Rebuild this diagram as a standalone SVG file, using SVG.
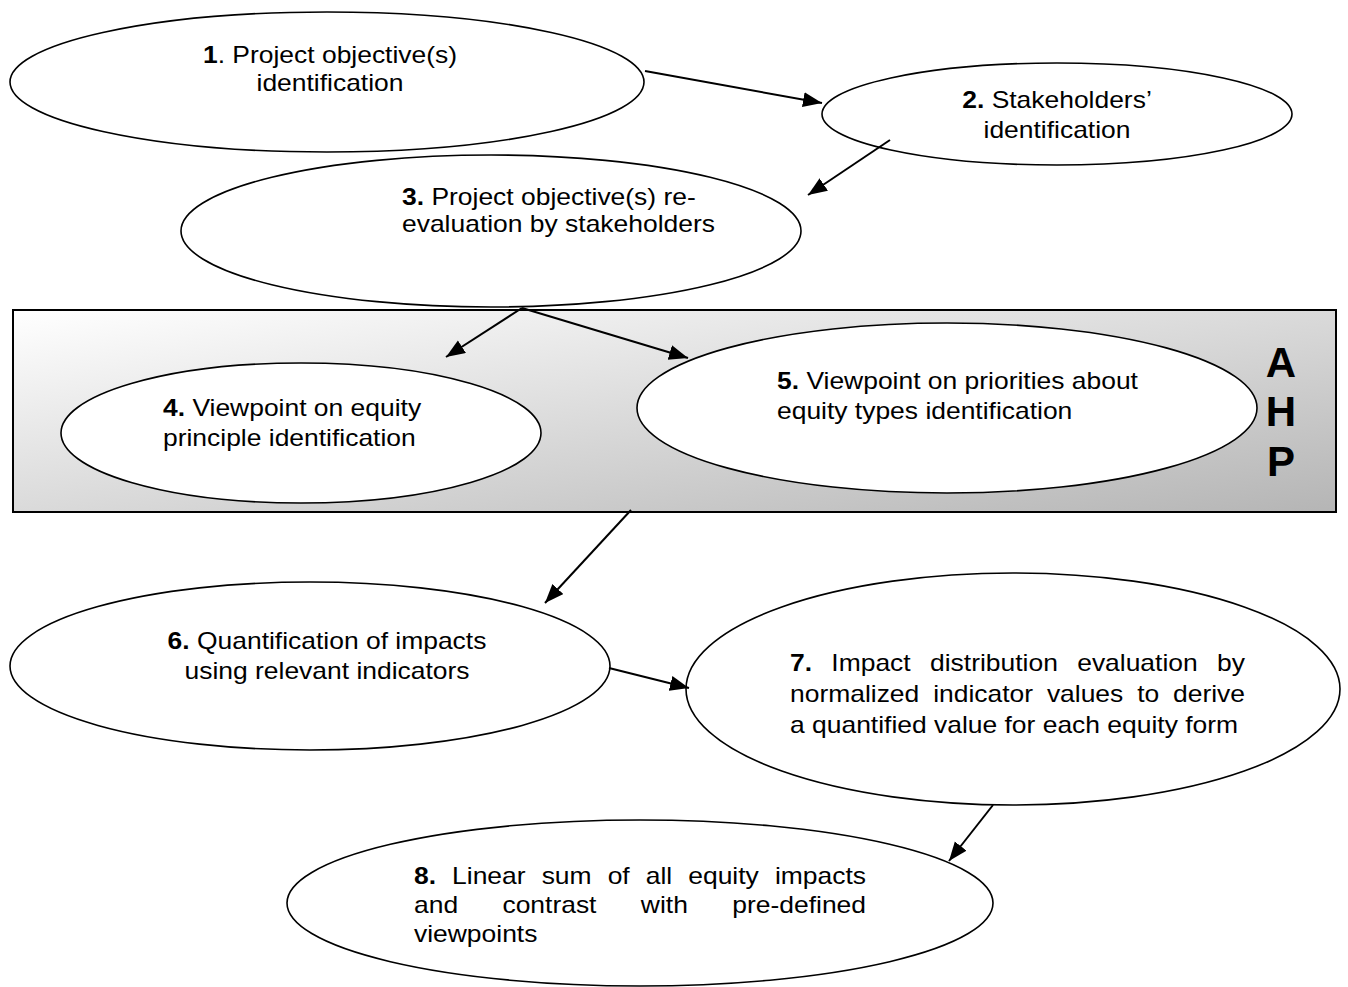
<svg xmlns="http://www.w3.org/2000/svg" width="1348" height="987" viewBox="0 0 1348 987">
<style>
.n{fill:#fff;stroke:#000;stroke-width:1.6}
.t{font-family:"Liberation Sans",Arial,sans-serif;font-size:23px;fill:#000}
.b{font-weight:bold}
.c{text-anchor:middle}
.e{text-anchor:end}
.ahp{font-family:"Liberation Sans",Arial,sans-serif;font-size:42px;font-weight:bold;text-anchor:middle;fill:#000}
.a{stroke:#000;stroke-width:2;fill:none;marker-end:url(#arr)}
</style>
<defs>
<linearGradient id="g" x1="0" y1="0" x2="1" y2="1">
<stop offset="0" stop-color="#ffffff"/>
<stop offset="1" stop-color="#b5b5b5"/>
</linearGradient>
<marker id="arr" markerUnits="userSpaceOnUse" markerWidth="20" markerHeight="16" refX="19" refY="7.5" orient="auto">
<path d="M0,0 L19,7.5 L0,15 z" fill="#000"/>
</marker>
</defs>

<g id="ahp-box">
<rect x="13" y="310" width="1323" height="202" fill="url(#g)" stroke="#000" stroke-width="2"/>
<text class="ahp" x="1281" y="377">A</text>
<text class="ahp" x="1281" y="426">H</text>
<text class="ahp" x="1281" y="476">P</text>
</g>

<g id="node1">
<ellipse class="n" cx="327" cy="82" rx="317" ry="70"/>
<g transform="matrix(1.15 0 0 1 330 0)">
<text class="t c" x="0" y="63"><tspan class="b">1</tspan>. Project objective(s)</text>
<text class="t c" x="0" y="91">identification</text>
</g>
</g>

<g id="node2">
<ellipse class="n" cx="1057" cy="114" rx="235" ry="51"/>
<g transform="matrix(1.15 0 0 1 1057 0)">
<text class="t c" x="0" y="108"><tspan class="b">2.</tspan> Stakeholders’</text>
<text class="t c" x="0" y="138">identification</text>
</g>
</g>

<g id="node3">
<ellipse class="n" cx="491" cy="231" rx="310" ry="76"/>
<g transform="matrix(1.15 0 0 1 402 0)">
<text class="t" x="0" y="205"><tspan class="b">3.</tspan> Project objective(s) re-</text>
<text class="t" x="0" y="232">evaluation by stakeholders</text>
</g>
</g>

<g id="node4">
<ellipse class="n" cx="301" cy="433" rx="240" ry="70"/>
<g transform="matrix(1.15 0 0 1 163 0)">
<text class="t" x="0" y="416"><tspan class="b">4.</tspan> Viewpoint on equity</text>
<text class="t" x="0" y="446">principle identification</text>
</g>
</g>

<g id="node5">
<ellipse class="n" cx="947" cy="408" rx="310" ry="85"/>
<g transform="matrix(1.15 0 0 1 777 0)">
<text class="t" x="0" y="389"><tspan class="b">5.</tspan> Viewpoint on priorities about</text>
<text class="t" x="0" y="419">equity types identification</text>
</g>
</g>

<g id="node6">
<ellipse class="n" cx="310" cy="666" rx="300" ry="84"/>
<g transform="matrix(1.15 0 0 1 327 0)">
<text class="t c" x="0" y="649"><tspan class="b">6.</tspan> Quantification of impacts</text>
<text class="t c" x="0" y="679">using relevant indicators</text>
</g>
</g>

<g id="node7">
<ellipse class="n" cx="1013" cy="689" rx="327" ry="116"/>
<g transform="matrix(1.15 0 0 1 790 0)">
<text class="t" y="671"><tspan class="b" x="0">7.</tspan><tspan x="35.96">Impact</tspan><tspan x="121.76">distribution</tspan><tspan x="249.74">evaluation</tspan></text>
<text class="t e" x="395.65" y="671">by</text>
<text class="t" y="702"><tspan x="0">normalized</tspan><tspan x="124.47">indicator</tspan><tspan x="223.39">values</tspan><tspan x="301.86">to</tspan></text>
<text class="t e" x="395.65" y="702">derive</text>
<text class="t" x="0" y="733">a quantified value for each equity form</text>
</g>
</g>

<g id="node8">
<ellipse class="n" cx="640" cy="903" rx="353" ry="83"/>
<g transform="matrix(1.15 0 0 1 414 0)">
<text class="t" y="884"><tspan class="b" x="0">8.</tspan><tspan x="33.13">Linear</tspan><tspan x="111">sum</tspan><tspan x="168.4">of</tspan><tspan x="201.53">all</tspan><tspan x="238.48">equity</tspan></text>
<text class="t e" x="393.04" y="884">impacts</text>
<text class="t" y="913"><tspan x="0">and</tspan><tspan x="76.91">contrast</tspan><tspan x="197.27">with</tspan></text>
<text class="t e" x="393.04" y="913">pre-defined</text>
<text class="t" x="0" y="942">viewpoints</text>
</g>
</g>

<g id="connectors">
<line class="a" x1="645" y1="71" x2="822" y2="103"/>
<line class="a" x1="890" y1="140" x2="808" y2="195"/>
<line class="a" x1="522" y1="308" x2="446" y2="357"/>
<line class="a" x1="522" y1="308" x2="688" y2="358"/>
<line class="a" x1="631" y1="510" x2="545" y2="603"/>
<line class="a" x1="609" y1="668" x2="689" y2="688"/>
<line class="a" x1="993" y1="805" x2="949" y2="861"/>
</g>
</svg>
